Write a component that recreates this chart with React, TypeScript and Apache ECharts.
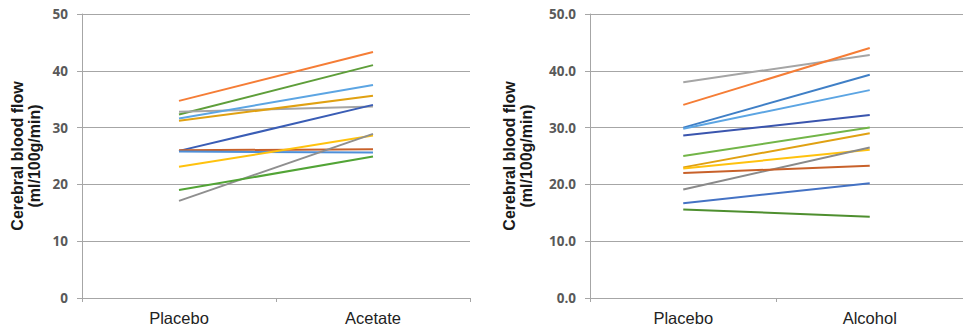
import React, { useEffect, useRef } from "react";
import * as echarts from "echarts";

const leftCategories = ["Placebo", "Acetate"];
const rightCategories = ["Placebo", "Alcohol"];
const leftTicks = [0, 10, 20, 30, 40, 50];
const rightTicks = ["0.0", "10.0", "20.0", "30.0", "40.0", "50.0"];

// Left panel (Placebo -> Acetate)
const acetateOrange = [34.7, 43.3];
const acetateGreen = [32.3, 41.0];
const acetateGray = [32.8, 33.7];
const acetateLightBlue = [31.6, 37.5];
const acetateGold = [31.2, 35.6];
const acetateDarkBlue = [25.9, 34.0];
const acetateBrown = [26.0, 26.2];
const acetateBlue = [25.8, 25.6];
const acetateYellow = [23.1, 28.6];
const acetateGray2 = [17.1, 28.9];
const acetateGreen2 = [19.0, 24.9];

// Right panel (Placebo -> Alcohol)
const alcoholGray = [38.0, 42.8];
const alcoholOrange = [34.0, 44.0];
const alcoholBlue = [30.0, 39.3];
const alcoholLightBlue = [29.8, 36.6];
const alcoholDarkBlue = [28.6, 32.2];
const alcoholGreen = [25.0, 30.0];
const alcoholGold = [23.0, 29.0];
const alcoholYellow = [22.8, 26.1];
const alcoholGray2 = [19.1, 26.5];
const alcoholBrown = [22.0, 23.3];
const alcoholBlue2 = [16.7, 20.2];
const alcoholDarkGreen = [15.6, 14.3];

const leftSeries: [string, number[], string][] = [
  ["S1", acetateOrange, "#F57D36"],
  ["S2", acetateGreen, "#5E9E3A"],
  ["S3", acetateGray, "#A5A5A5"],
  ["S4", acetateLightBlue, "#5CA5E3"],
  ["S5", acetateGold, "#E0A112"],
  ["S6", acetateDarkBlue, "#3A5DB5"],
  ["S7", acetateBrown, "#C8612A"],
  ["S8", acetateBlue, "#4E8FD8"],
  ["S9", acetateYellow, "#FFC20E"],
  ["S10", acetateGray2, "#8F8F8F"],
  ["S11", acetateGreen2, "#52A436"],
];

const rightSeries: [string, number[], string][] = [
  ["R1", alcoholGray, "#A5A5A5"],
  ["R2", alcoholOrange, "#F57D36"],
  ["R3", alcoholBlue, "#3F7FC6"],
  ["R4", alcoholLightBlue, "#5CA5E3"],
  ["R5", alcoholDarkBlue, "#3A55AE"],
  ["R6", alcoholGreen, "#72B548"],
  ["R7", alcoholGold, "#E0A112"],
  ["R8", alcoholYellow, "#FFC20E"],
  ["R9", alcoholGray2, "#8A8A8A"],
  ["R10", alcoholBrown, "#C8612A"],
  ["R11", alcoholBlue2, "#4472C4"],
  ["R12", alcoholDarkGreen, "#4E8F2F"],
];

const gridColor = "#A6A6A6";

function yAxis(gridIndex: number, fmt: (v: number) => string) {
  return {
    type: "value" as const,
    gridIndex,
    min: 0,
    max: 50,
    interval: 10,
    name: "Cerebral blood flow\n(ml/100g/min)",
    nameLocation: "middle" as const,
    nameRotate: 90,
    nameGap: gridIndex === 0 ? 39 : 55,
    nameTextStyle: {
      fontFamily: "Liberation Sans",
      fontWeight: "bold" as const,
      fontSize: 16,
      color: "#1a1a1a",
      lineHeight: 17,
    },
    axisLine: { show: true, lineStyle: { color: gridColor, width: 1 } },
    axisTick: { show: true, length: 5, lineStyle: { color: gridColor } },
    splitLine: { show: true, lineStyle: { color: gridColor, width: 1 } },
    axisLabel: {
      formatter: fmt,
      margin: 14,
      fontFamily: "Open Sans",
      fontWeight: "bold" as const,
      fontSize: 13.5,
      color: "#595959",
    },
  };
}

function xAxis(gridIndex: number, data: string[]) {
  return {
    type: "category" as const,
    gridIndex,
    data,
    boundaryGap: true,
    axisLine: { show: true, lineStyle: { color: gridColor, width: 1 } },
    axisTick: { show: true, length: 4, lineStyle: { color: gridColor } },
    axisLabel: {
      margin: 11,
      fontFamily: "Liberation Sans",
      fontSize: 16.5,
      color: "#222",
    },
  };
}

export default function App() {
  const ref = useRef<HTMLDivElement>(null);
  useEffect(() => {
    if (!ref.current) return;
    const chart = echarts.init(ref.current, undefined, { renderer: "svg" });
    const series: any[] = [];
    leftSeries.forEach(([name, data, color]) =>
      series.push({
        name,
        type: "line",
        xAxisIndex: 0,
        yAxisIndex: 0,
        data,
        symbol: "none",
        lineStyle: { color, width: 2 },
        itemStyle: { color },
      })
    );
    rightSeries.forEach(([name, data, color]) =>
      series.push({
        name,
        type: "line",
        xAxisIndex: 1,
        yAxisIndex: 1,
        data,
        symbol: "none",
        lineStyle: { color, width: 2 },
        itemStyle: { color },
      })
    );
    chart.setOption({
      animation: false,
      backgroundColor: "#ffffff",
      grid: [
        { left: 82, width: 388, top: 14, bottom: 35 },
        { left: 590, width: 378, top: 14, bottom: 35 },
      ],
      xAxis: [xAxis(0, leftCategories), xAxis(1, rightCategories)],
      yAxis: [
        yAxis(0, (v: number) => String(leftTicks[Math.round(v / 10)] ?? v)),
        yAxis(1, (v: number) => rightTicks[Math.round(v / 10)] ?? v.toFixed(1)),
      ],
      series,
    });
    return () => chart.dispose();
  }, []);
  return (
    <div
      ref={ref}
      style={{ position: "fixed", left: 0, top: 0, width: 963, height: 333, overflow: "hidden" }}
    />
  );
}
